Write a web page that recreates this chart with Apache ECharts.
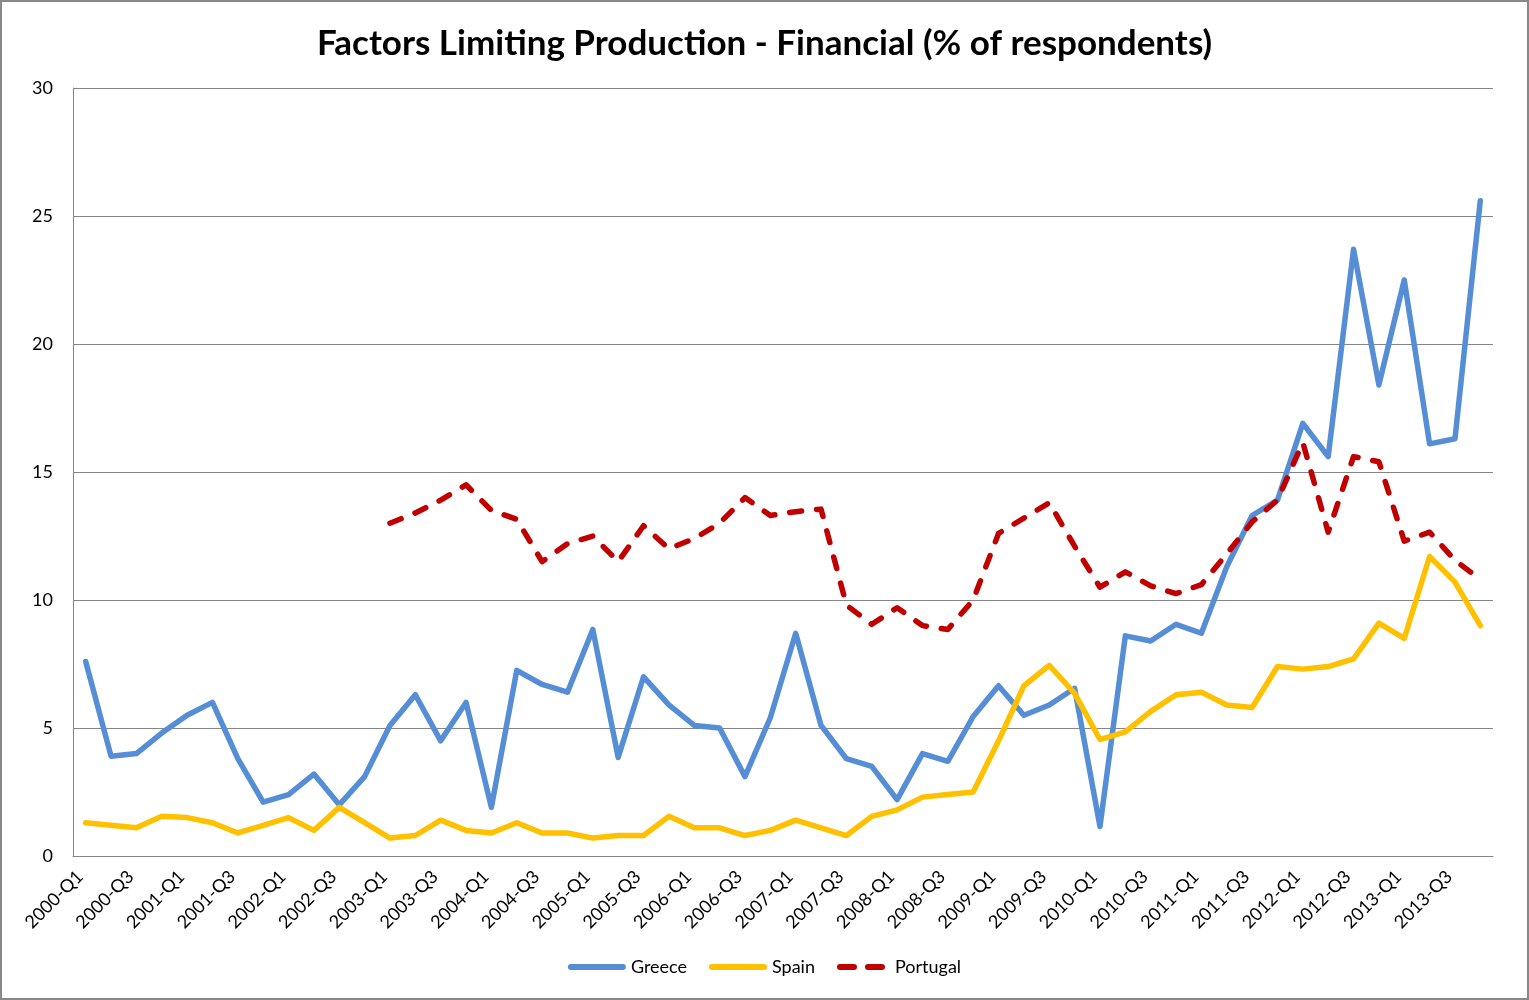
<!DOCTYPE html>
<html>
<head>
<meta charset="utf-8">
<script src="https://cdn.jsdelivr.net/npm/echarts@6/dist/echarts.min.js"></script>
<style>
html,body{margin:0;padding:0;background:#fff;}
#chart{width:1529px;height:1000px;box-sizing:border-box;border:2px solid #888;}
</style>
</head>
<body>
<div id="chart"></div>
<script>
const titleText = 'Factors Limiting Production - Financial (% of respondents)';
const years = [2000,2001,2002,2003,2004,2005,2006,2007,2008,2009,2010,2011,2012,2013];
const quarters = ['Q1','Q2','Q3','Q4'];
const categories = [];
years.forEach(y => quarters.forEach(q => categories.push(y + '-' + q)));

const greece = [7.6,3.9,4.0,4.8,5.5,6.0,3.8,2.1,2.4,3.2,2.0,3.1,5.1,6.3,4.5,6.0,
  1.9,7.25,6.7,6.4,8.85,3.85,7.0,5.9,5.1,5.0,3.1,5.4,8.7,5.1,3.8,3.5,
  2.2,4.0,3.7,5.45,6.65,5.5,5.9,6.55,1.15,8.6,8.4,9.05,8.7,11.3,
  13.3,13.9,16.9,15.6,23.7,18.4,22.5,16.1,16.3,25.6];
const spain = [1.3,1.2,1.1,1.55,1.5,1.3,0.9,1.2,1.5,1.0,1.9,1.3,0.7,0.8,1.4,1.0,
  0.9,1.3,0.9,0.9,0.7,0.8,0.8,1.55,1.1,1.1,0.8,1.0,1.4,1.1,0.8,1.55,
  1.8,2.3,2.4,2.5,4.5,6.65,7.45,6.35,4.55,4.85,5.65,6.3,6.4,5.9,
  5.8,7.4,7.3,7.4,7.7,9.1,8.5,11.7,10.7,9.0];
const portugal = [null,null,null,null,null,null,null,null,null,null,null,null,
  13.0,13.4,13.9,14.5,13.5,13.15,11.5,12.2,12.5,11.5,12.9,12.0,12.4,13.0,14.0,13.3,13.45,13.55,
  9.8,9.05,9.7,9.0,8.85,10.0,12.6,13.2,13.8,12.1,10.5,11.1,10.55,10.25,10.6,11.8,
  13.05,13.9,16.15,12.65,15.6,15.4,12.3,12.65,11.55,10.8];
const yTicks = {min: 0, max: 30, interval: 5};

const FONT = 'Lato, "Open Sans", sans-serif';
const solidIcon = 'path://M3,0 H55 A3,3 0 0 1 55,6 H3 A3,3 0 0 1 3,0 Z';
const dashIcon = 'path://M3,0 H17 A3,3 0 0 1 17,6 H3 A3,3 0 0 1 3,0 Z M31,0 H45 A3,3 0 0 1 45,6 H31 A3,3 0 0 1 31,0 Z';

const chart = echarts.init(document.getElementById('chart'), null, {renderer: 'canvas'});
chart.setOption({
  animation: false,
  backgroundColor: '#fff',
  title: {
    text: titleText, left: 'center', top: 19,
    textStyle: {fontFamily: FONT, fontWeight: 'bold', fontSize: 35, color: '#000'}
  },
  legend: {
    bottom: 17, left: 'center', itemGap: 22, itemHeight: 6,
    textStyle: {fontFamily: FONT, fontSize: 18, color: '#000'},
    data: [
      {name: 'Greece', icon: solidIcon, itemStyle: {color: '#558ED5'}},
      {name: 'Spain', icon: solidIcon, itemStyle: {color: '#FFC000'}},
      {name: 'Portugal', icon: dashIcon, itemStyle: {color: '#C00000'}}
    ],
    itemWidth: 58
  },
  grid: {left: 71, right: 34, top: 86, bottom: 142, containLabel: false},
  xAxis: {
    type: 'category', data: categories, boundaryGap: true,
    axisLine: {lineStyle: {color: '#868686', width: 1}},
    axisTick: {show: false},
    axisLabel: {interval: 1, rotate: 45, margin: 12, fontFamily: FONT, fontSize: 18, color: '#000',
      padding: [0, 8, 0, 0]},
    splitLine: {show: false}
  },
  yAxis: {
    type: 'value', min: yTicks.min, max: yTicks.max, interval: yTicks.interval,
    axisLine: {show: true, lineStyle: {color: '#868686', width: 1}},
    axisTick: {show: false},
    axisLabel: {margin: 20, fontFamily: FONT, fontSize: 18, color: '#000'},
    splitLine: {lineStyle: {color: '#868686', width: 1}}
  },
  series: [
    {name: 'Greece', type: 'line', data: greece, symbol: 'none', color: '#558ED5',
     lineStyle: {width: 5.5, color: '#558ED5', cap: 'round', join: 'round'}},
    {name: 'Spain', type: 'line', data: spain, symbol: 'none', color: '#FFC000',
     lineStyle: {width: 5.5, color: '#FFC000', cap: 'round', join: 'round'}},
    {name: 'Portugal', type: 'line', data: portugal, symbol: 'none', color: '#C00000',
     lineStyle: {width: 5.5, color: '#C00000', type: [12, 15], cap: 'round', join: 'round'}}
  ]
});
</script>
</body>
</html>
